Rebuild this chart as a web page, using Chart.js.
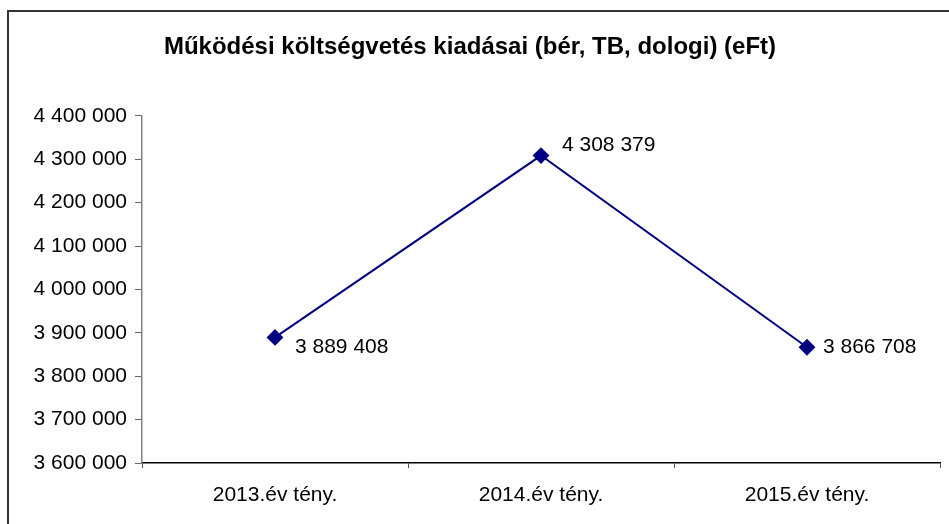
<!DOCTYPE html>
<html>
<head>
<meta charset="utf-8">
<script src="https://cdn.jsdelivr.net/npm/chart.js@4.4.1/dist/chart.umd.min.js"></script>
<style>
  html, body { margin: 0; padding: 0; background: #fff; }
  canvas { display: block; }
</style>
</head>
<body>
<canvas id="lineChart" width="949" height="524"></canvas>
<script>
// adatok
const categories = ['2013.év tény.', '2014.év tény.', '2015.év tény.'];
const values = [3889408, 4308379, 3866708];
const yMin = 3600000;
const yMax = 4400000;
const yStep = 100000;

function fmt(v) {
  return String(Math.round(v)).replace(/\B(?=(\d{3})+(?!\d))/g, ' ');
}

// keret a diagram körül
const framePlugin = {
  id: 'frame',
  beforeDraw(chart) {
    const ctx = chart.ctx;
    ctx.save();
    ctx.strokeStyle = '#333';
    ctx.lineWidth = 2;
    ctx.strokeRect(8, 11, chart.width + 20, chart.height + 20);
    ctx.restore();
  }
};

// adatcímkék a pontok mellett
const labelShift = [[20, 10], [21, -10], [16, 0]];
const dataLabels = {
  id: 'dataLabels',
  afterDatasetsDraw(chart) {
    const ctx = chart.ctx;
    const meta = chart.getDatasetMeta(0);
    ctx.save();
    ctx.font = '21px "Liberation Sans", Arial, sans-serif';
    ctx.fillStyle = '#000';
    ctx.textAlign = 'left';
    ctx.textBaseline = 'middle';
    meta.data.forEach((pt, i) => {
      const s = labelShift[i];
      ctx.fillText(fmt(values[i]), pt.x + s[0], pt.y + s[1]);
    });
    ctx.restore();
  }
};

Chart.defaults.font.family = '"Liberation Sans", Arial, sans-serif';
Chart.defaults.font.size = 21;
Chart.defaults.color = '#000';

new Chart(document.getElementById('lineChart'), {
  type: 'line',
  data: {
    labels: categories,
    datasets: [{
      data: values,
      borderColor: '#000080',
      backgroundColor: '#000080',
      borderWidth: 2,
      pointStyle: 'rectRot',
      pointRadius: 7,
      tension: 0
    }]
  },
  options: {
    responsive: false,
    animation: false,
    layout: { padding: { left: 0, right: 9, top: 0, bottom: 0 } },
    plugins: {
      legend: { display: false },
      tooltip: { enabled: false },
      title: {
        display: true,
        text: 'Működési költségvetés kiadásai (bér, TB, dologi) (eFt)',
        font: { size: 24, weight: 'bold' },
        color: '#000',
        padding: { top: 33, bottom: 54 }
      }
    },
    scales: {
      x: {
        offset: true,
        border: { color: '#000', width: 1.5 },
        grid: { offset: true, drawOnChartArea: false, drawTicks: true, tickLength: 5, tickColor: '#555' },
        ticks: { padding: 15, color: '#000', maxRotation: 0 },
        afterFit(scale) { scale.height = 61; }
      },
      y: {
        min: yMin,
        max: yMax,
        border: { color: '#808080', width: 1.5 },
        grid: { drawOnChartArea: false, drawTicks: true, tickLength: 7, tickColor: '#666' },
        ticks: { stepSize: yStep, padding: 8, color: '#000', callback: v => fmt(v) },
        afterFit(scale) { scale.width = 142; }
      }
    }
  },
  plugins: [framePlugin, dataLabels]
});
</script>
</body>
</html>
